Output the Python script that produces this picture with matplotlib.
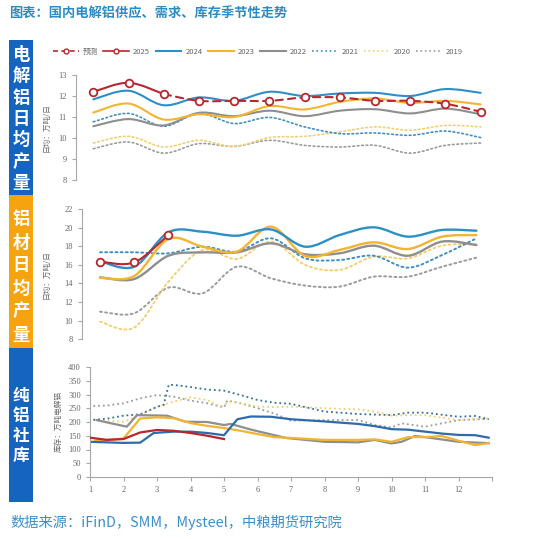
import numpy as np
import matplotlib
matplotlib.use("Agg")
import matplotlib.pyplot as plt
from matplotlib.path import Path
from matplotlib.patches import PathPatch, Rectangle
from matplotlib.lines import Line2D

plt.rcParams['font.family'] = ['Noto Sans CJK SC', 'DejaVu Sans']

# ---------------- data ----------------
months = [1, 2, 3, 4, 5, 6, 7, 8, 9, 10, 11, 12]
series_names = ["2024", "2023", "2022", "2021", "2020", "2019"]

# panel 1: 电解铝日均产量 (万吨/日)
p1_2025_actual = [12.20, 12.63, 12.09]
p1_2025_forecast = [12.09, 11.77, 11.77, 11.77, 11.93, 11.93, 11.77, 11.77, 11.63, 11.25]
p1_2024 = [11.84, 12.25, 11.56, 11.93, 11.77, 12.20, 12.00, 12.12, 12.15, 12.00, 12.33, 12.15]
p1_2023 = [11.21, 11.64, 10.88, 11.13, 11.00, 11.52, 11.36, 11.72, 11.88, 11.67, 11.77, 11.60]
p1_2022 = [10.56, 10.90, 10.60, 11.20, 11.04, 11.30, 11.04, 11.30, 11.37, 11.17, 11.40, 11.13]
p1_2021 = [10.77, 11.17, 10.56, 11.17, 10.69, 10.98, 10.53, 10.21, 10.24, 10.13, 10.33, 10.02]
p1_2020 = [9.76, 10.08, 9.57, 9.89, 9.60, 10.02, 10.08, 10.29, 10.53, 10.37, 10.60, 10.53]
p1_2019 = [9.49, 9.81, 9.28, 9.73, 9.60, 9.89, 9.65, 9.57, 9.65, 9.28, 9.65, 9.76]

# panel 2: 铝材日均产量 (万吨/日)
p2_2025 = [16.34, 16.27, 19.20]
p2_2024 = [16.40, 15.80, 19.50, 19.56, 19.13, 19.80, 17.95, 19.20, 20.03, 19.03, 19.75, 19.67]
p2_2023 = [14.60, 14.80, 18.78, 17.95, 17.42, 20.10, 16.95, 17.60, 18.42, 17.70, 19.03, 19.20]
p2_2022 = [14.66, 14.48, 16.98, 17.34, 17.34, 18.31, 17.13, 17.24, 18.06, 16.98, 18.50, 18.13]
p2_2021 = [17.35, 17.35, 17.24, 17.95, 17.42, 18.85, 16.70, 16.52, 16.98, 15.70, 17.06, 18.85]
p2_2020 = [9.90, 9.26, 14.19, 17.60, 16.63, 18.49, 15.98, 15.45, 16.88, 16.70, 18.06, 18.20]
p2_2019 = [10.97, 10.80, 13.55, 12.94, 15.80, 14.55, 13.77, 13.66, 14.73, 14.73, 15.80, 16.77]

# panel 3: 纯铝社库 (万吨)
p3_2025_x = [1.0, 1.5, 2.0, 2.5, 3.0, 3.5, 4.0, 4.5, 5.0]
p3_2025_y = [143, 135, 138, 162, 171, 168, 160, 150, 138]
p3_2024_x = [1.0, 1.5, 2.0, 2.5, 2.9, 3.5, 4.0, 4.5, 5.0, 5.4, 5.8, 6.4, 7.0, 8.0, 9.0, 9.5, 10.0, 10.5, 11.0, 11.5, 12.0, 12.5, 12.9]
p3_2024_y = [128, 126, 124, 125, 160, 165, 165, 160, 152, 210, 220, 219, 210, 202, 193, 185, 174, 172, 165, 158, 153, 152, 143]
p3_2023_x = [1.15, 1.5, 2.0, 2.5, 3.0, 3.5, 4.0, 4.5, 5.0, 5.5, 6.0, 6.5, 7.0, 8.0, 9.0, 9.5, 10.0, 10.5, 11.0, 11.5, 12.0, 12.5, 12.9]
p3_2023_y = [132, 135, 140, 213, 217, 214, 196, 186, 178, 168, 156, 145, 142, 135, 135, 137, 128, 145, 145, 149, 132, 116, 123]
p3_2022_x = [1.2, 1.6, 2.1, 2.4, 3.3, 3.85, 4.5, 5.0, 5.2, 5.85, 6.85, 8.0, 9.0, 9.5, 10.0, 10.3, 10.7, 11.0, 12.0, 12.9]
p3_2022_y = [207, 196, 183, 225, 223, 201, 200, 189, 193, 171, 142, 128, 126, 135, 122, 128, 149, 145, 128, 123]
p3_2021_x = [1.1, 1.5, 2.0, 2.5, 3.0, 3.2, 3.35, 3.5, 4.0, 4.5, 5.0, 5.5, 6.0, 6.5, 7.0, 8.0, 9.0, 10.0, 10.5, 11.0, 12.0, 12.5, 12.9]
p3_2021_y = [208, 212, 223, 228, 255, 262, 335, 335, 327, 318, 314, 298, 280, 270, 266, 238, 229, 225, 234, 234, 219, 222, 210]
p3_2020_x = [1.1, 1.5, 2.0, 2.5, 3.0, 3.5, 4.0, 4.5, 4.9, 5.2, 5.5, 6.0, 6.5, 7.0, 8.0, 9.0, 9.5, 10.0, 10.5, 11.0, 12.0, 12.9]
p3_2020_y = [207, 205, 201, 225, 256, 274, 290, 280, 256, 274, 268, 256, 254, 256, 250, 246, 238, 223, 225, 225, 207, 213]
p3_2019_x = [1.1, 1.5, 2.0, 2.5, 3.0, 3.5, 4.0, 4.5, 5.0, 5.1, 5.5, 6.0, 6.5, 7.0, 8.0, 9.0, 9.5, 10.0, 10.3, 11.0, 11.5, 12.0, 12.9]
p3_2019_y = [258, 260, 268, 286, 298, 292, 278, 268, 253, 278, 268, 250, 231, 205, 207, 207, 189, 180, 195, 183, 195, 207, 211]

legend_labels = ["预测", "2025", "2024", "2023", "2022", "2021", "2020", "2019"]
panel_titles = ["电解铝日均产量", "铝材日均产量", "纯铝社库"]
ylabels = ["日均：万吨/日", "日均：万吨/日", "库存：万吨电解铝"]
title = "图表：国内电解铝供应、需求、库存季节性走势"
source = "数据来源：iFinD，SMM，Mysteel，中粮期货研究院"

# ---------------- styles ----------------
RED = "#B8272E"
C = {"2024": "#2E8FC6", "2023": "#F2B431", "2022": "#8E8E8E",
     "2021": "#3F8FC0", "2020": "#F3CF72", "2019": "#9B9B9B"}
C_BOTTOM = {"2024": "#2F6BAA", "2021": "#33709F"}
LS = {"2024": "-", "2023": "-", "2022": "-", "2021": ":", "2020": ":", "2019": ":"}
LW = {"2024": 1.5, "2023": 1.5, "2022": 1.5, "2021": 1.2, "2020": 1.2, "2019": 1.2}
TICK_C = "#666666"
SPINE_C = "#A6A6A6"

W, H = 550, 539
fig = plt.figure(figsize=(W / 100, H / 100), dpi=100)


def rect(l, r, t, b):
    return [l / W, 1 - b / H, (r - l) / W, (b - t) / H]


def smooth_path(xs, ys):
    pts = np.column_stack([xs, ys]).astype(float)
    n = len(pts)
    verts = [pts[0]]
    codes = [Path.MOVETO]
    for i in range(n - 1):
        p0 = pts[i - 1] if i > 0 else pts[i]
        p1 = pts[i]
        p2 = pts[i + 1]
        p3 = pts[i + 2] if i + 2 < n else pts[i + 1]
        c1 = p1 + (p2 - p0) / 6.0
        c2 = p2 - (p3 - p1) / 6.0
        verts += [c1, c2, p2]
        codes += [Path.CURVE4] * 3
    return Path(verts, codes)


def smooth_line(ax, xs, ys, color, ls="-", lw=1.5, z=2):
    patch = PathPatch(smooth_path(xs, ys), fill=False, edgecolor=color,
                      linestyle=ls, linewidth=lw, zorder=z, capstyle="round")
    ax.add_patch(patch)


def style_axes(ax, show_x=False):
    for s in ["top", "right"]:
        ax.spines[s].set_visible(False)
    ax.spines["left"].set_color(SPINE_C)
    ax.spines["left"].set_linewidth(0.8)
    if show_x:
        ax.spines["bottom"].set_color(SPINE_C)
        ax.spines["bottom"].set_linewidth(0.8)
    else:
        ax.spines["bottom"].set_visible(False)
        ax.set_xticks([])
    ax.tick_params(axis="both", colors=SPINE_C, length=3, width=0.8,
                   labelsize=6, labelcolor=TICK_C)
    ax.set_facecolor("none")


mk = dict(marker="o", markersize=5.5, markerfacecolor="white",
          markeredgecolor=RED, markeredgewidth=1.3, linestyle="none", zorder=5)

# ---------------- panel 1 ----------------
ax1 = fig.add_axes(rect(76, 500, 75, 180))
ax1.set_xlim(0.508, 12.55)
ax1.set_ylim(8, 13)
ax1.set_yticks([8, 9, 10, 11, 12, 13])
style_axes(ax1)
p1 = {"2024": p1_2024, "2023": p1_2023, "2022": p1_2022,
      "2021": p1_2021, "2020": p1_2020, "2019": p1_2019}
for name in reversed(series_names):
    smooth_line(ax1, months, p1[name], C[name], LS[name], LW[name])
smooth_line(ax1, months[:3], p1_2025_actual, RED, "-", 1.5, z=4)
smooth_line(ax1, months[2:], p1_2025_forecast, RED, (0, (3.5, 2.5)), 1.5, z=4)
ax1.plot(months[:3], p1_2025_actual, **mk)
ax1.plot(months[3:], p1_2025_forecast[1:], **mk)
ax1.set_ylabel(ylabels[0], fontsize=5.5, color=TICK_C, labelpad=6)
for lab in ax1.get_yticklabels():
    lab.set_family("Liberation Serif")

# ---------------- panel 2 ----------------
ax2 = fig.add_axes(rect(81.7, 500, 209, 339.3))
ax2.set_xlim(0.465, 12.69)
ax2.set_ylim(8, 22)
ax2.set_yticks(list(range(8, 23, 2)))
style_axes(ax2)
p2 = {"2024": p2_2024, "2023": p2_2023, "2022": p2_2022,
      "2021": p2_2021, "2020": p2_2020, "2019": p2_2019}
for name in reversed(series_names):
    smooth_line(ax2, months, p2[name], C[name], LS[name], LW[name] + 0.2)
smooth_line(ax2, months[:3], p2_2025, RED, "-", 1.5, z=4)
ax2.plot(months[:3], p2_2025, **mk)
ax2.set_ylabel(ylabels[1], fontsize=5.5, color=TICK_C, labelpad=10)
for lab in ax2.get_yticklabels():
    lab.set_family("Liberation Serif")

# ---------------- panel 3 ----------------
ax3 = fig.add_axes(rect(90, 492, 367, 477))
ax3.set_xlim(1, 13)
ax3.set_ylim(0, 400)
ax3.set_yticks(list(range(0, 401, 50)))
ax3.set_xticks(list(range(1, 14)))
ax3.set_xticklabels([str(m) for m in months] + [""])
style_axes(ax3, show_x=True)
p3 = {"2019": (p3_2019_x, p3_2019_y), "2020": (p3_2020_x, p3_2020_y),
      "2021": (p3_2021_x, p3_2021_y), "2022": (p3_2022_x, p3_2022_y),
      "2023": (p3_2023_x, p3_2023_y), "2024": (p3_2024_x, p3_2024_y)}
for name in reversed(series_names):
    xs, ys = p3[name]
    col = C_BOTTOM.get(name, C[name])
    ax3.plot(xs, ys, color=col, linestyle=LS[name], linewidth=LW[name] + 0.1, zorder=2)
ax3.plot(p3_2025_x, p3_2025_y, color=RED, linewidth=1.6, zorder=4)
ax3.set_ylabel(ylabels[2], fontsize=5.5, color=TICK_C, labelpad=4)
for lab in ax3.get_yticklabels() + ax3.get_xticklabels():
    lab.set_family("Liberation Serif")

# ---------------- side boxes ----------------
boxes = [(40, 195, "#1565C0", 119, 21.3, 12.5),
         (195, 348, "#F5A30E", 277, 23.0, 12.5),
         (348, 502, "#1565C0", 426, 19.7, 12.0)]
for (t, b, col, cy, step, fs), txt in zip(boxes, panel_titles):
    fig.patches.append(Rectangle((9 / W, 1 - b / H), 24 / W, (b - t) / H,
                                 transform=fig.transFigure, facecolor=col,
                                 edgecolor="none", zorder=0))
    n = len(txt)
    for i, ch in enumerate(txt):
        y = cy + (i - (n - 1) / 2) * step
        fig.text(21 / W, 1 - y / H, ch, ha="center", va="center", color="white",
                 fontsize=fs, fontweight="bold")

# ---------------- title / source ----------------
fig.text(9 / W, 1 - 13 / H, title, ha="left", va="center", fontsize=9.5,
         fontweight="bold", color="#2A8CC2")
fig.text(10 / W, 1 - 522 / H, source, ha="left", va="center", fontsize=10.3,
         color="#3A8FC8")

# ---------------- legend ----------------
handles = [
    Line2D([], [], color=RED, linestyle=(0, (3, 2)), linewidth=1.2, marker="o",
           markersize=3.5, markerfacecolor="white", markeredgecolor=RED, markeredgewidth=1.0),
    Line2D([], [], color=RED, linestyle="-", linewidth=1.2, marker="o",
           markersize=3.5, markerfacecolor="white", markeredgecolor=RED, markeredgewidth=1.0),
]
for name in series_names:
    handles.append(Line2D([], [], color=C[name], linestyle=LS[name], linewidth=LW[name]))
leg = fig.legend(handles, legend_labels, loc="center", ncol=8,
                 bbox_to_anchor=(258 / W, 1 - 52 / H), frameon=False,
                 fontsize=5.5, handlelength=3.4, columnspacing=0.7,
                 handletextpad=0.5)
for t in leg.get_texts():
    t.set_color(TICK_C)

fig.savefig("out.png", dpi=100, facecolor="white")
